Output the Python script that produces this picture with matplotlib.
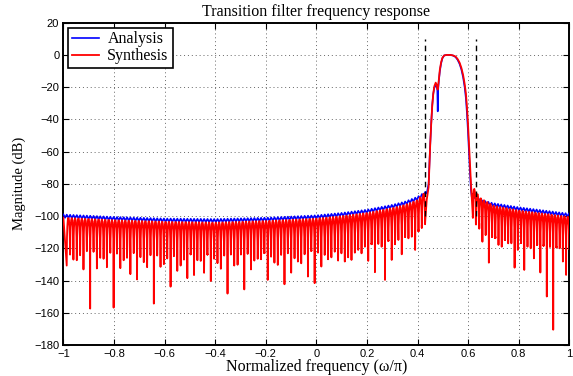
import numpy as np
import matplotlib
matplotlib.use("Agg")
import matplotlib.pyplot as plt

# ---------------- data ----------------
# depths (dB) of the synthesis-filter nulls, lower stopband (x from -0.987 to 0.43)
left_nulls_db = [
    -130.7, -123.9, -127.0, -127.4, -124.3, -133.1, -121.8, -157.4, -122.2, -132.5,
    -125.9, -126.5, -131.7, -122.8, -156.8, -123.3, -132.3, -127.4, -125.9, -136.0,
    -122.8, -139.3, -125.5, -128.6, -131.7, -124.3, -154.3, -124.5, -131.5, -129.8,
    -126.3, -143.8, -124.9, -134.0, -130.7, -127.0, -138.5, -123.0, -136.6, -127.4,
    -127.8, -135.2, -123.5, -140.3, -126.5, -129.2, -132.7, -124.5, -148.1, -123.9,
    -130.7, -130.2, -123.9, -145.5, -123.3, -133.1, -127.6, -126.5,
    -126.8, -122.7, -139.6, -125.2, -128.9, -130.3, -124.1, -142.3, -123.1, -135.1,
    -126.2, -128.2, -129.3, -123.7, -137.5, -121.0, -141.6, -122.7, -131.3, -124.1,
    -126.8, -125.6, -122.1, -127.6, -123.1, -128.2, -125.6, -127.2, -122.7, -121.0,
    -123.1, -119.0, -127.8, -116.9, -134.8, -117.3, -119.0, -139.6, -114.8, -127.2,
    -117.5, -114.8, -123.7, -112.8, -113.8, -112.8, -121.0, -108.7, -105.6, -103.5,
]
left_null_span = [-0.987, 0.430]

# depths (dB) of the synthesis-filter nulls, upper stopband (x from 0.618 to 0.987)
right_nulls_db = [
    -99.4, -103.5, -104.5, -115.9, -111.8, -128.9, -109.7, -112.8, -117.9, -119.0,
    -112.8, -116.9, -116.9, -132.0, -121.0, -113.8, -133.4, -119.0, -120.0, -126.2,
    -114.8, -135.0, -117.9, -149.9, -117.9, -170.5, -119.0, -120.0, -128.2, -136.5,
]
right_null_span = [0.618, 0.987]

# analysis-filter stopband level (centre of its small ripple)
blue_env_x = [-1.0, -0.8, -0.6, -0.4, -0.2, 0.0, 0.1, 0.2, 0.3, 0.35, 0.4, 0.43,
              0.615, 0.63, 0.65, 0.7, 0.8, 0.9, 1.0]
blue_env_db = [-100.0, -101.5, -102.5, -102.8, -102.0, -100.5, -99.0, -97.0, -94.0,
               -92.0, -89.0, -86.0, -87.0, -89.0, -91.0, -93.0, -95.5, -97.5, -99.5]
blue_ripple_db = 1.0

# synthesis-filter lobe peaks in the stopbands
red_peak_x = [-1.0, -0.8, -0.6, -0.4, -0.2, 0.0, 0.1, 0.2, 0.3, 0.35, 0.4, 0.43,
              0.615, 0.63, 0.65, 0.7, 0.8, 0.9, 1.0]
red_peak_db = [-101.0, -102.5, -103.5, -104.0, -103.0, -101.5, -100.0, -98.0, -95.0,
               -93.0, -90.0, -85.0, -80.0, -85.0, -89.0, -93.5, -96.5, -98.5, -100.5]
# lobe profile (dB below the lobe peak) at fractions of a lobe
lobe_t = [0.03, 0.08, 0.18, 0.32, 0.5, 0.68, 0.82, 0.92, 0.97]
lobe_drop_db = [-20.0, -12.0, -5.5, -1.3, 0.0, -1.3, -5.5, -12.0, -20.0]

# transition / passband region
pass_x = [0.436, 0.4435, 0.447, 0.450, 0.454, 0.458, 0.462, 0.466, 0.4715, 0.4755,
          0.478, 0.4795, 0.481, 0.484, 0.488, 0.493, 0.498, 0.505, 0.515, 0.530,
          0.540, 0.550, 0.558, 0.566, 0.573, 0.580, 0.586, 0.591, 0.595, 0.599,
          0.603, 0.607, 0.611, 0.614]
pass_red_db = [-90, -82, -68, -55, -42, -31, -24, -19.5, -17.2, -18.5,
               -21.0, -21.5, -20.0, -15.0, -9.0, -4.5, -1.8, -0.3, 0.0, 0.0,
               -0.3, -1.0, -2.5, -4.8, -8.0, -12.5, -18.0, -24.0, -32.0, -42.0,
               -55.0, -68.0, -80.0, -88.0]
pass_blue_db = [-86, -80, -66, -55, -42, -31, -24, -20.5, -19.0, -19.5,
                -22.0, -35.0, -22.0, -16.0, -10.0, -5.2, -2.1, -0.3, 0.0, 0.0,
                -0.4, -1.3, -3.0, -5.6, -9.0, -14.0, -20.0, -27.0, -36.0, -47.0,
                -60.0, -73.0, -84.0, -88.0]

edge_lines_x = [0.43, 0.63]
edge_lines_db = [-100, 10]

xticks = [-1, -0.8, -0.6, -0.4, -0.2, 0, 0.2, 0.4, 0.6, 0.8, 1]
xtick_labels = ["\u22121", "\u22120.8", "\u22120.6", "\u22120.4", "\u22120.2", "0",
                "0.2", "0.4", "0.6", "0.8", "1"]
yticks = list(range(-180, 21, 20))

# ---------------- build the curves ----------------
def red_band(nulls, span, start=None, end=None):
    xn = np.linspace(span[0], span[1], len(nulls))
    step = xn[1] - xn[0]
    xs, ys = [], []
    if start is not None:
        xs.append(start)
        ys.append(np.interp(start, red_peak_x, red_peak_db))
    for i, (x0, d0) in enumerate(zip(xn, nulls)):
        xs.append(x0)
        ys.append(d0)
        x1 = xn[i + 1] if i + 1 < len(xn) else x0 + step
        if i + 1 == len(xn) and end is None:
            break
        for t, dd in zip(lobe_t, lobe_drop_db):
            xx = x0 + t * (x1 - x0)
            if end is not None and xx > end:
                break
            xs.append(xx)
            ys.append(np.interp(xx, red_peak_x, red_peak_db) + dd)
    return xs, ys


def blue_band(span_lo, span_hi, step):
    xs = np.arange(span_lo, span_hi + 1e-9, step / 2)
    env = np.interp(xs, blue_env_x, blue_env_db)
    sign = np.where(np.arange(len(xs)) % 2 == 0, 1.0, -1.0)
    return list(xs), list(env + sign * blue_ripple_db)

lstep = (left_null_span[1] - left_null_span[0]) / (len(left_nulls_db) - 1)
rstep = (right_null_span[1] - right_null_span[0]) / (len(right_nulls_db) - 1)

rxl, ryl = red_band(left_nulls_db, left_null_span, start=-1.0)
rxr, ryr = red_band(right_nulls_db, right_null_span, end=1.0)
red_x = rxl + pass_x + rxr
red_y = ryl + pass_red_db + ryr

bxl, byl = blue_band(-1.0, 0.432, lstep)
bxr, byr = blue_band(0.616, 1.0, rstep)
blue_x = bxl + pass_x + bxr
blue_y = byl + pass_blue_db + byr

# ---------------- plot ----------------
serif = ["Liberation Serif", "DejaVu Serif"]
sans = ["Liberation Sans", "DejaVu Sans"]

fig = plt.figure(figsize=(5.73, 3.76), dpi=100)
ax = fig.add_axes([0.1107, 0.0824, 0.8830, 0.8572])

ax.plot(blue_x, blue_y, color=(0, 0, 1), lw=1.2, label="Analysis", zorder=3)
ax.plot(red_x, red_y, color=(1, 0, 0), lw=1.3, label="Synthesis", zorder=4)
for xe in edge_lines_x:
    ax.plot([xe, xe], edge_lines_db, color="black", ls=(0, (4, 3)), lw=1.0, zorder=5)

ax.set_xlim(-1, 1)
ax.set_ylim(-180, 20)
ax.set_xticks(xticks)
ax.set_xticklabels(xtick_labels, fontfamily=sans, fontsize=8)
ax.set_yticks(yticks)
ax.set_yticklabels([("\u2212%d" % -v) if v < 0 else "%d" % v for v in yticks],
                   fontfamily=sans, fontsize=8)
ax.tick_params(direction="in", top=True, right=True, length=4, width=0.8, pad=3)
ax.grid(True, ls=(0, (1, 3)), color="0.4", lw=0.7)
for s in ax.spines.values():
    s.set_linewidth(1.4)

ax.set_title("Transition filter frequency response", fontfamily=serif, fontsize=11.5, pad=5)
ax.set_xlabel("Normalized frequency (\u03c9/\u03c0)", fontfamily=serif, fontsize=11.5, labelpad=0)
ax.set_ylabel("Magnitude (dB)", fontfamily=serif, fontsize=10.5, labelpad=6)

leg = ax.legend(loc="upper left", prop={"family": serif, "size": 11.5}, fancybox=False,
                edgecolor="black", framealpha=1, borderaxespad=0.3, handlelength=1.7,
                handletextpad=0.5, borderpad=0.25, labelspacing=0.05)
leg.get_frame().set_linewidth(1.2)

fig.savefig("out.png", dpi=100)
